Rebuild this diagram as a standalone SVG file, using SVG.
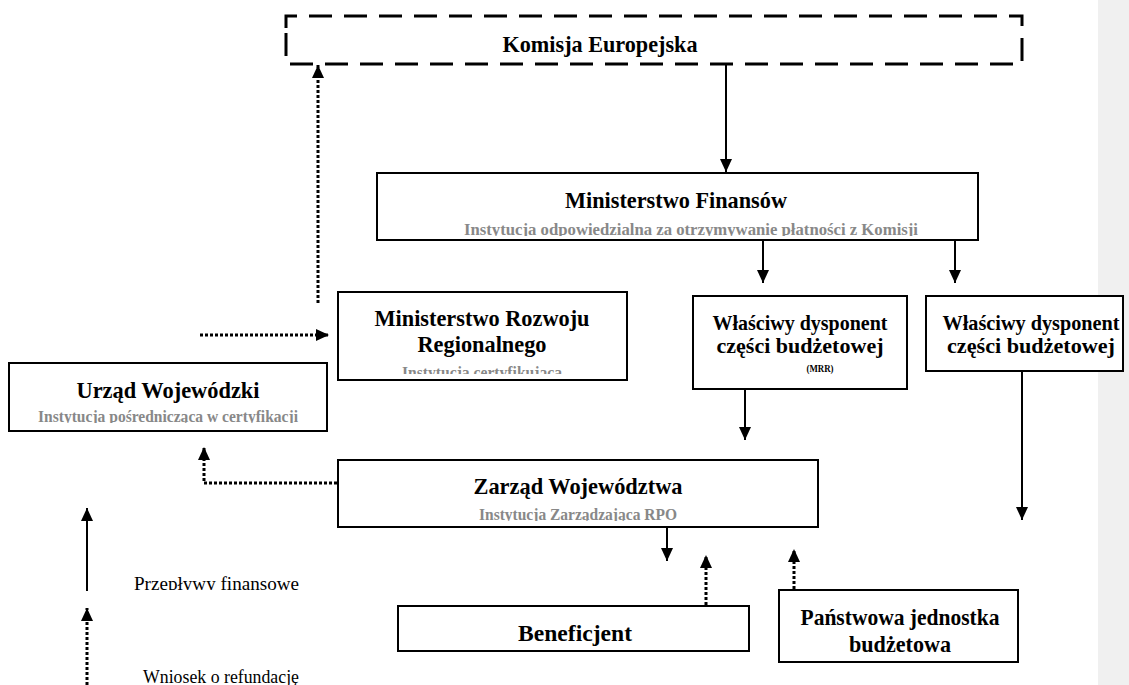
<svg xmlns="http://www.w3.org/2000/svg" width="1129" height="685" viewBox="0 0 1129 685">
<style>
.box{fill:#fff;stroke:#000;stroke-width:2}
.t{font-family:"Liberation Serif","Times New Roman",serif;font-weight:bold;fill:#000;text-anchor:middle}
.sub{font-family:"Liberation Serif","Times New Roman",serif;font-weight:bold;fill:#888;font-size:16.5px}
.leg{font-family:"Liberation Serif","Times New Roman",serif;fill:#000;font-size:19px}
.sol{stroke:#000;stroke-width:2;fill:none}
.dot{stroke:#000;stroke-width:3;fill:none;stroke-dasharray:3 2}
</style>
<defs>
<marker id="ah" markerUnits="userSpaceOnUse" markerWidth="13" markerHeight="12" refX="13" refY="6" orient="auto">
<path d="M0,0 L13,6 L0,12 z" fill="#000"/>
</marker>
<clipPath id="cMF"><rect x="377" y="200" width="600" height="36"/></clipPath>
<clipPath id="cMRR"><rect x="338" y="355" width="290" height="19"/></clipPath>
<clipPath id="cUW"><rect x="9" y="400" width="318" height="23"/></clipPath>
<clipPath id="cZW"><rect x="338" y="500" width="480" height="21"/></clipPath>
<clipPath id="cL1"><rect x="120" y="560" width="220" height="30"/></clipPath>
</defs>
<rect x="1098" y="0" width="31" height="685" fill="#f0f0f0"/>

<g id="komisja">
<path d="M286,28 V16 H1022 V64 H286 V28" fill="#fff" stroke="#000" stroke-width="3" stroke-dasharray="23 12"/>
<text class="t" x="600" y="52" font-size="23" textLength="195" lengthAdjust="spacingAndGlyphs">Komisja Europejska</text>
</g>

<g id="mf">
<rect class="box" x="377" y="173" width="601" height="67"/>
<text class="t" x="676" y="208" font-size="23.5" textLength="222" lengthAdjust="spacingAndGlyphs">Ministerstwo Finansów</text>
<text class="sub" x="464" y="235" clip-path="url(#cMF)" textLength="454" lengthAdjust="spacingAndGlyphs">Instytucja odpowiedzialna za otrzymywanie płatności z Komisji</text>
</g>

<g id="mrr">
<rect class="box" x="338" y="292" width="289" height="88"/>
<text class="t" x="482" y="326" font-size="23.5" textLength="215" lengthAdjust="spacingAndGlyphs">Ministerstwo Rozwoju</text>
<text class="t" x="482" y="352" font-size="23.5" textLength="129" lengthAdjust="spacingAndGlyphs">Regionalnego</text>
<text class="sub" x="402" y="378" clip-path="url(#cMRR)" textLength="160" lengthAdjust="spacingAndGlyphs">Instytucja certyfikująca</text>
</g>

<g id="urzad">
<rect class="box" x="9" y="363" width="318" height="68"/>
<text class="t" x="168" y="398" font-size="23.5" textLength="183" lengthAdjust="spacingAndGlyphs">Urząd Wojewódzki</text>
<text class="sub" x="38" y="422" clip-path="url(#cUW)" textLength="260" lengthAdjust="spacingAndGlyphs">Instytucja pośrednicząca w certyfikacji</text>
</g>

<g id="dysp-mrr">
<rect class="box" x="693" y="296" width="214" height="93"/>
<text class="t" x="800" y="330" font-size="21.5" textLength="175" lengthAdjust="spacingAndGlyphs">Właściwy dysponent</text>
<text class="t" x="800" y="353" font-size="21.5" textLength="167" lengthAdjust="spacingAndGlyphs">części budżetowej</text>
<text class="t" x="820" y="372" font-size="11" textLength="27" lengthAdjust="spacingAndGlyphs">(MRR)</text>
</g>

<g id="dysp">
<rect class="box" x="926" y="296" width="197" height="75"/>
<text class="t" x="1031" y="330" font-size="21.5" textLength="177" lengthAdjust="spacingAndGlyphs">Właściwy dysponent</text>
<text class="t" x="1031" y="353" font-size="21.5" textLength="168" lengthAdjust="spacingAndGlyphs">części budżetowej</text>
</g>

<g id="zarzad">
<rect class="box" x="338" y="460" width="480" height="67"/>
<text class="t" x="578" y="494" font-size="23.5" textLength="209" lengthAdjust="spacingAndGlyphs">Zarząd Województwa</text>
<text class="sub" x="479" y="520" clip-path="url(#cZW)" textLength="198" lengthAdjust="spacingAndGlyphs">Instytucja Zarządzająca RPO</text>
</g>

<g id="beneficjent">
<rect class="box" x="398" y="606" width="351" height="45"/>
<text class="t" x="575" y="641" font-size="23" textLength="114" lengthAdjust="spacingAndGlyphs">Beneficjent</text>
</g>

<g id="pjb">
<rect class="box" x="779" y="590" width="239" height="72"/>
<text class="t" x="900" y="625" font-size="23" textLength="199" lengthAdjust="spacingAndGlyphs">Państwowa jednostka</text>
<text class="t" x="900" y="652" font-size="23" textLength="102" lengthAdjust="spacingAndGlyphs">budżetowa</text>
</g>

<g id="connectors">
<line class="sol" x1="726" y1="64" x2="726" y2="172" marker-end="url(#ah)"/>
<line class="sol" x1="763" y1="240" x2="763" y2="283" marker-end="url(#ah)"/>
<line class="sol" x1="955" y1="240" x2="955" y2="283" marker-end="url(#ah)"/>
<line class="sol" x1="745" y1="389" x2="745" y2="440" marker-end="url(#ah)"/>
<line class="sol" x1="1022" y1="371" x2="1022" y2="520" marker-end="url(#ah)"/>
<line class="sol" x1="667" y1="527" x2="667" y2="561" marker-end="url(#ah)"/>
<line class="dot" x1="706" y1="605" x2="706" y2="555" marker-end="url(#ah)"/>
<line class="dot" x1="794" y1="589" x2="794" y2="549" marker-end="url(#ah)"/>
<path class="dot" d="M337,483 H204 V447" marker-end="url(#ah)"/>
<line class="dot" x1="200" y1="335" x2="329" y2="335" marker-end="url(#ah)"/>
<line class="dot" x1="318" y1="303" x2="318" y2="65" marker-end="url(#ah)"/>
</g>

<g id="legend">
<line class="sol" x1="87" y1="591" x2="87" y2="508" marker-end="url(#ah)"/>
<text class="leg" x="134" y="590" clip-path="url(#cL1)" textLength="165" lengthAdjust="spacingAndGlyphs">Przepływy finansowe</text>
<line class="dot" x1="87" y1="685" x2="87" y2="608" marker-end="url(#ah)"/>
<text class="leg" x="143" y="683" textLength="156" lengthAdjust="spacingAndGlyphs">Wniosek o refundację</text>
</g>
</svg>
